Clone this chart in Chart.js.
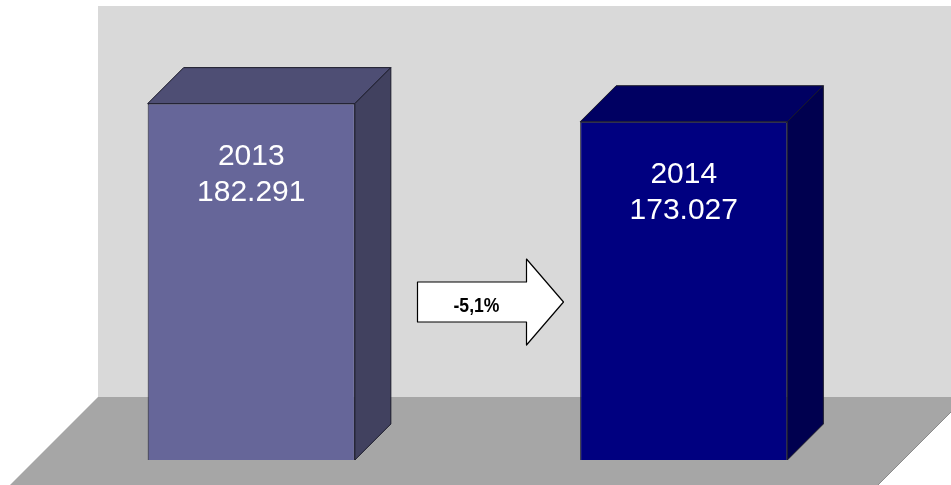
<!DOCTYPE html>
<html>
<head>
<meta charset="utf-8">
<script src="https://cdn.jsdelivr.net/npm/chart.js@4.4.1/dist/chart.umd.min.js"></script>
<style>
  html, body { margin: 0; padding: 0; background: #fff; }
  canvas { display: block; }
</style>
</head>
<body>
<canvas id="chart" width="951" height="485"></canvas>
<script>
const years = ['2013', '2014'];
const values = [182291, 173027];
const frontColors = ['#666699', '#000080'];
const topColors = ['#4e4e74', '#000062'];
const sideColors = ['#41415f', '#00004f'];

const DEPTH = 36;       // bar depth in px
const WALL_OFFSET = 63; // back wall behind the bar fronts

function fmtThousands(v) {
  return String(v).replace(/\B(?=(\d{3})+(?!\d))/g, '.');
}

const change = ((values[1] / values[0] - 1) * 100).toFixed(1).replace('.', ',') + '%';

const scenePlugin = {
  id: 'scene',
  beforeDraw(chart) {
    const { ctx, chartArea, scales } = chart;
    const zeroY = scales.y.getPixelForValue(0);
    const topY = scales.y.getPixelForValue(scales.y.max);
    const W = chart.width, H = chart.height;
    ctx.save();
    ctx.fillStyle = '#ffffff';
    ctx.fillRect(0, 0, W, H);
    // back wall
    const wallL = chartArea.left + WALL_OFFSET;
    const wallT = topY - WALL_OFFSET;
    const wallB = zeroY - WALL_OFFSET;
    ctx.fillStyle = '#d9d9d9';
    ctx.fillRect(wallL, wallT, W - wallL, wallB - wallT);
    // floor
    const frontY = H;
    const ext = frontY - zeroY;
    ctx.fillStyle = '#a6a6a6';
    ctx.beginPath();
    ctx.moveTo(wallL, wallB);
    ctx.lineTo(W + 15, wallB);
    ctx.lineTo(W + 15 - (frontY - wallB), frontY);
    ctx.lineTo(chartArea.left - ext, frontY);
    ctx.closePath();
    ctx.fill();
    ctx.strokeStyle = '#8a8a8a';
    ctx.lineWidth = 1;
    ctx.beginPath();
    ctx.moveTo(W + 15, wallB);
    ctx.lineTo(W + 15 - (frontY - wallB), frontY);
    ctx.stroke();
    ctx.restore();
  },
  afterDatasetsDraw(chart) {
    const { ctx } = chart;
    const meta = chart.getDatasetMeta(0);
    ctx.save();
    meta.data.forEach((bar, i) => {
      const l = bar.x - bar.width / 2;
      const r = bar.x + bar.width / 2;
      const t = bar.y;
      const b = bar.base;
      ctx.lineWidth = 1;
      ctx.strokeStyle = '#1a1a2a';
      ctx.lineJoin = 'round';
      // top face
      ctx.fillStyle = topColors[i];
      ctx.beginPath();
      ctx.moveTo(l, t);
      ctx.lineTo(l + DEPTH, t - DEPTH);
      ctx.lineTo(r + DEPTH, t - DEPTH);
      ctx.lineTo(r, t);
      ctx.closePath();
      ctx.fill();
      ctx.stroke();
      // side face
      ctx.fillStyle = sideColors[i];
      ctx.beginPath();
      ctx.moveTo(r, t);
      ctx.lineTo(r + DEPTH, t - DEPTH);
      ctx.lineTo(r + DEPTH, b - DEPTH);
      ctx.lineTo(r, b);
      ctx.closePath();
      ctx.fill();
      ctx.stroke();
      // labels
      ctx.fillStyle = '#ffffff';
      ctx.font = '30px "Liberation Sans", Arial, sans-serif';
      ctx.textAlign = 'center';
      ctx.textBaseline = 'middle';
      ctx.fillText(years[i], bar.x, t + 53);
      ctx.fillText(fmtThousands(values[i]), bar.x, t + 89);
    });

    // change arrow between the bars
    const midX = (meta.data[0].x + meta.data[1].x) / 2;
    const cy = 302;
    const x0 = midX - 50, xb = midX + 59, xt = midX + 96;
    ctx.fillStyle = '#ffffff';
    ctx.strokeStyle = '#000000';
    ctx.lineWidth = 1.2;
    ctx.beginPath();
    ctx.moveTo(x0, cy - 20);
    ctx.lineTo(xb, cy - 20);
    ctx.lineTo(xb, cy - 43);
    ctx.lineTo(xt, cy);
    ctx.lineTo(xb, cy + 43);
    ctx.lineTo(xb, cy + 20);
    ctx.lineTo(x0, cy + 20);
    ctx.closePath();
    ctx.fill();
    ctx.stroke();
    // narrow bold label
    ctx.fillStyle = '#000000';
    ctx.font = 'bold 20px "Liberation Sans", Arial, sans-serif';
    ctx.textAlign = 'center';
    ctx.textBaseline = 'middle';
    ctx.translate(midX + 9, cy + 4);
    ctx.scale(0.88, 1);
    ctx.fillText(change, 0, 0);
    ctx.restore();
  }
};

new Chart(document.getElementById('chart'), {
  type: 'bar',
  data: {
    labels: years,
    datasets: [{
      data: values,
      backgroundColor: frontColors,
      borderColor: '#1a1a2a',
      borderWidth: 1,
      barPercentage: 0.479,
      categoryPercentage: 1
    }]
  },
  options: {
    responsive: false,
    animation: false,
    layout: { padding: { left: 35, right: 51, top: 69, bottom: 25 } },
    plugins: { legend: { display: false }, tooltip: { enabled: false } },
    scales: {
      x: { display: false },
      y: { display: false, min: 0, max: 200000 }
    }
  },
  plugins: [scenePlugin]
});
</script>
</body>
</html>
